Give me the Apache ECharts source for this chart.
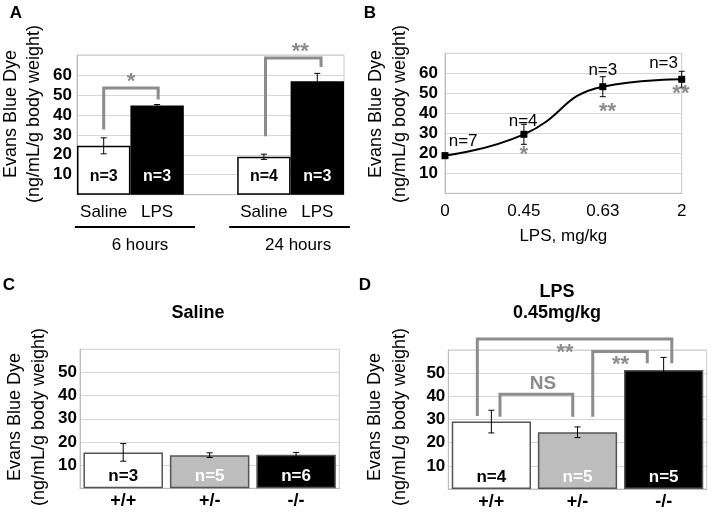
<!DOCTYPE html>
<html>
<head>
<meta charset="utf-8">
<script src="https://cdn.jsdelivr.net/npm/echarts@6/dist/echarts.min.js"></script>
<style>
html,body{margin:0;padding:0;background:#fff;}
#chart{width:714px;height:513px;}
</style>
</head>
<body>
<div id="chart"></div>
<script>
// ---------- Panel A ----------
const aCategories = ['Saline', 'LPS', '', 'Saline', 'LPS'];
const aValues = [24.5, 44.7, null, 19, 56.8];
const aErrors = [4, 0.5, null, 1.3, 4];
const aCounts = ['n=3', 'n=3', '', 'n=4', 'n=3'];
const aGroups = ['6 hours', '24 hours'];
// brackets: [xStart, yStart, xEnd, yEnd, yTop] (category units / data units)
const aBrackets = [[0, 32.7, 1.02, 47.7, 53.5], [3.03, 29.3, 4.07, 64, 68.5]];
const aBracketLabels = [['*', 0.51, 58.9], ['**', 3.68, 73.9]];

// ---------- Panel B ----------
const bDoses = ['0', '0.45', '0.63', '2'];
const bValues = [18.8, 29.5, 53.3, 57];
const bErrors = [1.3, 5, 5, 4];
const bCounts = [['n=7', 0.23, 25.8], ['n=4', 0.99, 35.8], ['n=3', 2.0, 61.7], ['n=3', 2.77, 65.2]];
const bStars = [['*', 1.0, 21.6], ['**', 2.06, 43.2], ['**', 2.99, 52.0]];

// ---------- Panels C & D ----------
const genotypes = ['+/+', '+/-', '-/-'];
const cValues = [15.5, 14.3, 14.5];
const cErrors = [3.8, 1, 1];
const cCounts = ['n=3', 'n=5', 'n=6'];
const dValues = [29.1, 24.5, 51.4];
const dErrors = [4.9, 2.3, 5.4];
const dCounts = ['n=4', 'n=5', 'n=5'];
const dBrackets = [[0.1, 31.2, 0.945, 31.2, 40.9], [1.177, 31.2, 1.81, 54.3, 59.3], [-0.163, 31.5, 2.095, 54.3, 64.7]];
const dBracketLabels = [['NS', 0.6, 45.3], ['**', 1.5, 55.7], ['**', 0.855, 60.7]];

const yTitle1 = 'Evans Blue Dye';
const yTitle2 = '(ng/mL/g body weight)';

// ---------- styles ----------
const FF = '"Liberation Sans", Arial, Helvetica, sans-serif';
const GREY = '#8c8c8c';
const GRID = '#d6d6d6';
const aFill = ['#ffffff', '#000000', '#ffffff', '#ffffff', '#000000'];
const aLabelColor = ['#000', '#fff', '#000', '#000', '#fff'];
const cdFill = ['#ffffff', '#bdbdbd', '#000000'];
const cdLabelColor = ['#000', '#fff', '#fff'];

const chart = echarts.init(document.getElementById('chart'), null, {renderer: 'canvas'});

function xPix(api, x) {
  const c0 = api.coord([0, 0])[0];
  const bw = api.size([1, 0])[0];
  return c0 + x * bw;
}
function yPix(api, v) { return api.coord([0, v])[1]; }

function errorSeries(idx, values, errors, cap) {
  const data = [];
  values.forEach((v, i) => { if (v != null) data.push([i, v, errors[i]]); });
  return {
    type: 'custom', xAxisIndex: idx, yAxisIndex: idx, z: 5, silent: true,
    data: data,
    renderItem: function (params, api) {
      const i = api.value(0), v = api.value(1), e = api.value(2);
      const t = api.coord([i, v + e]), b = api.coord([i, v - e]);
      const st = {stroke: '#000', lineWidth: 1};
      return {type: 'group', children: [
        {type: 'line', shape: {x1: t[0], y1: t[1], x2: b[0], y2: b[1]}, style: st},
        {type: 'line', shape: {x1: t[0] - cap, y1: t[1], x2: t[0] + cap, y2: t[1]}, style: st},
        {type: 'line', shape: {x1: b[0] - cap, y1: b[1], x2: b[0] + cap, y2: b[1]}, style: st}
      ]};
    }
  };
}

function bracketSeries(idx, brackets) {
  return {
    type: 'custom', xAxisIndex: idx, yAxisIndex: idx, z: 6, silent: true, clip: false,
    data: brackets.map((b, k) => [0, 0]),
    renderItem: function (params, api) {
      const b = brackets[params.dataIndex];
      const x1 = xPix(api, b[0]), x2 = xPix(api, b[2]);
      const y1 = yPix(api, b[1]), y2 = yPix(api, b[3]), yt = yPix(api, b[4]);
      return {type: 'polyline', shape: {points: [[x1, y1], [x1, yt], [x2, yt], [x2, y2]]},
        style: {stroke: GREY, lineWidth: 3, fill: null, lineJoin: 'miter'}};
    }
  };
}

function textSeries(idx, items, font, color, dy) {
  return {
    type: 'custom', xAxisIndex: idx, yAxisIndex: idx, z: 7, silent: true, clip: false,
    data: items.map(() => [0, 0]),
    renderItem: function (params, api) {
      const it = items[params.dataIndex];
      const f = typeof font === 'function' ? font(it[0]) : font;
      const d = typeof dy === 'function' ? dy(it[0]) : dy;
      return {type: 'text', x: xPix(api, it[1]), y: yPix(api, it[2]) + d,
        style: {text: it[0], font: f, fill: color, align: 'center', verticalAlign: 'middle',
          textAlign: 'center', textVerticalAlign: 'middle'}};
    }
  };
}

function starFont(t) { return t === 'NS' ? 'bold 19px ' + FF : 'bold 22px ' + FF; }
function starDy(t) { return t === 'NS' ? 0 : 5; }

// underlines & group labels for panel A (x in category units, y in data units)
const aUnderlines = [[-0.54, 1.71, -16.2], [2.35, 4.61, -16.2]];
const aGroupLabelPos = [[0.68, -25.2], [3.64, -25.2]];

function yAxisCfg(idx, max, fs) {
  return {
    type: 'value', gridIndex: idx, min: 0, max: max, interval: 10,
    axisLine: {show: true, lineStyle: {color: '#bdbdbd', width: 1}},
    axisTick: {show: false},
    splitLine: {show: true, lineStyle: {color: GRID, width: 1}},
    axisLabel: {
      show: true, color: '#000', fontWeight: 'bold', fontSize: 17, fontFamily: FF, margin: fs,
      formatter: function (v) { return (v === 0 || v === max) ? '' : String(v); }
    }
  };
}

function rotText(x, y, text) {
  return {type: 'text', x: x, y: y, rotation: Math.PI / 2,
    style: {text: text, font: '18px ' + FF, fill: '#000', align: 'center', verticalAlign: 'middle',
      textAlign: 'center', textVerticalAlign: 'middle'}};
}
function plainText(x, y, text, font) {
  return {type: 'text', x: x, y: y,
    style: {text: text, font: font, fill: '#000', align: 'center', verticalAlign: 'middle',
      textAlign: 'center', textVerticalAlign: 'middle'}};
}

const gridBase = {show: true, borderColor: '#c8c8c8', borderWidth: 1, backgroundColor: 'rgba(0,0,0,0)', containLabel: false};

const option = {
  animation: false,
  backgroundColor: '#ffffff',
  textStyle: {fontFamily: FF},
  grid: [
    Object.assign({left: 77, top: 55, width: 267, height: 139.7}, gridBase),
    Object.assign({left: 445, top: 53.3, width: 236.7, height: 140}, gridBase),
    Object.assign({left: 80, top: 349.3, width: 259.3, height: 139}, gridBase),
    Object.assign({left: 448.3, top: 350, width: 258.4, height: 139}, gridBase)
  ],
  xAxis: [
    {type: 'category', gridIndex: 0, data: aCategories, boundaryGap: true,
      axisLine: {lineStyle: {color: '#bdbdbd'}}, axisTick: {show: false},
      axisLabel: {color: '#000', fontSize: 17, fontFamily: FF, margin: 9, interval: 0}},
    {type: 'category', gridIndex: 1, data: bDoses, boundaryGap: false,
      axisLine: {lineStyle: {color: '#bdbdbd'}}, axisTick: {show: false},
      axisLabel: {color: '#000', fontSize: 17, fontFamily: FF, margin: 10, interval: 0},
      name: 'LPS, mg/kg', nameLocation: 'middle', nameGap: 35,
      nameTextStyle: {color: '#000', fontSize: 17, fontFamily: FF}},
    {type: 'category', gridIndex: 2, data: genotypes, boundaryGap: true,
      axisLine: {lineStyle: {color: '#bdbdbd'}}, axisTick: {show: false},
      axisLabel: {color: '#000', fontSize: 18, fontWeight: 'bold', fontFamily: FF, margin: 4, interval: 0}},
    {type: 'category', gridIndex: 3, data: genotypes, boundaryGap: true,
      axisLine: {lineStyle: {color: '#bdbdbd'}}, axisTick: {show: false},
      axisLabel: {color: '#000', fontSize: 18, fontWeight: 'bold', fontFamily: FF, margin: 4, interval: 0}}
  ],
  yAxis: [yAxisCfg(0, 70, 5), yAxisCfg(1, 70, 7), yAxisCfg(2, 60, 3), yAxisCfg(3, 60, 3)],
  graphic: [
    plainText(16, 13, 'A', 'bold 17px ' + FF),
    plainText(370, 13, 'B', 'bold 17px ' + FF),
    plainText(9, 285, 'C', 'bold 17px ' + FF),
    plainText(365, 285, 'D', 'bold 17px ' + FF),
    rotText(11, 114, yTitle1), rotText(34, 114, yTitle2),
    rotText(376, 114, yTitle1), rotText(400, 114, yTitle2),
    rotText(15, 417, yTitle1), rotText(39, 417, yTitle2),
    rotText(375, 417, yTitle1), rotText(400, 417, yTitle2),
    plainText(198, 313, 'Saline', 'bold 18px ' + FF),
    plainText(557, 292, 'LPS', 'bold 18px ' + FF),
    plainText(557, 313.5, '0.45mg/kg', 'bold 18px ' + FF)
  ],
  series: [
    // Panel A bars
    {type: 'bar', xAxisIndex: 0, yAxisIndex: 0, barCategoryGap: '0%', z: 3,
      data: aValues.map((v, i) => ({value: v,
        itemStyle: {color: aFill[i], borderColor: '#000', borderWidth: 1.5},
        label: {color: aLabelColor[i]}})),
      label: {show: true, position: 'insideBottom', distance: 10, fontSize: 16, fontWeight: 'bold', fontFamily: FF,
        formatter: p => aCounts[p.dataIndex]}},
    errorSeries(0, aValues, aErrors, 3),
    bracketSeries(0, aBrackets),
    textSeries(0, aBracketLabels, starFont, GREY, starDy),
    {type: 'custom', xAxisIndex: 0, yAxisIndex: 0, z: 7, silent: true, clip: false,
      data: aUnderlines.map(() => [0, 0]),
      renderItem: function (params, api) {
        const u = aUnderlines[params.dataIndex];
        const g = aGroupLabelPos[params.dataIndex];
        const y = yPix(api, u[2]);
        return {type: 'group', children: [
          {type: 'line', shape: {x1: xPix(api, u[0]), y1: y, x2: xPix(api, u[1]), y2: y},
            style: {stroke: '#000', lineWidth: 2}},
          {type: 'text', x: xPix(api, g[0]), y: yPix(api, g[1]),
            style: {text: aGroups[params.dataIndex], font: '17px ' + FF, fill: '#000',
              align: 'center', verticalAlign: 'middle', textAlign: 'center', textVerticalAlign: 'middle'}}
        ]};
      }},
    // Panel B
    {type: 'line', xAxisIndex: 1, yAxisIndex: 1, data: bValues, smooth: 0.5, z: 4,
      symbol: 'rect', symbolSize: 7, showAllSymbol: true,
      itemStyle: {color: '#000'}, lineStyle: {color: '#000', width: 2}},
    errorSeries(1, bValues, bErrors, 3),
    textSeries(1, bCounts, '17px ' + FF, '#000', 0),
    textSeries(1, bStars, starFont, GREY, starDy),
    // Panel C
    {type: 'bar', xAxisIndex: 2, yAxisIndex: 2, barCategoryGap: '8%', z: 3,
      data: cValues.map((v, i) => ({value: v,
        itemStyle: {color: cdFill[i], borderColor: '#555', borderWidth: 1.5},
        label: {color: cdLabelColor[i]}})),
      label: {show: true, position: 'insideBottom', distance: 3, fontSize: 17, fontWeight: 'bold', fontFamily: FF,
        formatter: p => cCounts[p.dataIndex]}},
    errorSeries(2, cValues, cErrors, 3),
    // Panel D
    {type: 'bar', xAxisIndex: 3, yAxisIndex: 3, barCategoryGap: '8%', z: 3,
      data: dValues.map((v, i) => ({value: v,
        itemStyle: {color: cdFill[i], borderColor: '#555', borderWidth: 1.5},
        label: {color: cdLabelColor[i]}})),
      label: {show: true, position: 'insideBottom', distance: 3, fontSize: 17, fontWeight: 'bold', fontFamily: FF,
        formatter: p => dCounts[p.dataIndex]}},
    errorSeries(3, dValues, dErrors, 3),
    bracketSeries(3, dBrackets),
    textSeries(3, dBracketLabels, starFont, GREY, starDy)
  ]
};
chart.setOption(option);
</script>
</body>
</html>
